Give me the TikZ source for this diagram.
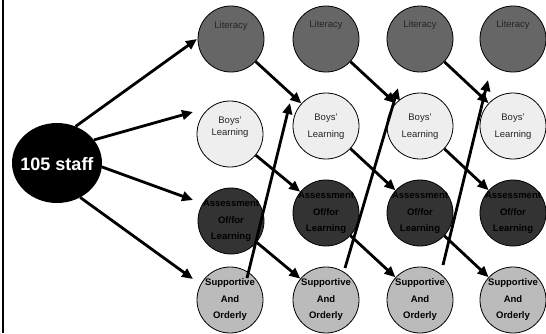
\documentclass[tikz,border=0pt]{standalone}
\usepackage{fontspec}
\setmainfont{Liberation Sans}
\usetikzlibrary{arrows.meta,calc,shapes.geometric}
\definecolor{litc}{HTML}{666666}
\definecolor{boyc}{HTML}{EEEEEE}
\definecolor{assc}{HTML}{333333}
\definecolor{supc}{HTML}{BBBBBB}
\begin{document}
\begin{tikzpicture}[x=1pt,y=-1pt,
  circ/.style={circle,draw=black,line width=0.8pt,minimum size=66pt,inner sep=0pt},
  lbl/.style={inner sep=0pt,align=center,text=black!85,font=\fontsize{9.5}{17}\selectfont},
  lbltight/.style={inner sep=0pt,align=center,text=black!85,font=\fontsize{9.5}{12.5}\selectfont},
  blbl/.style={inner sep=0pt,align=center,text=black,font=\fontsize{9.5}{16.5}\selectfont\bfseries},
  arr/.style={line width=2.8pt,-{Triangle[length=11pt,width=9.5pt]}}]
\useasboundingbox (0,0) rectangle (546,333);
\draw[line width=2pt] (3,0) -- (3,333);
% staff node
\node[ellipse,fill=black,minimum width=90pt,minimum height=80pt,inner sep=0pt] (staff) at (57,163) {};
\node[inner sep=0pt,text=white,font=\fontsize{18}{20}\selectfont\bfseries] (stafft) at (57,164) {105 staff};
% column 1
\node[circ,fill=litc] (L1) at (231,39) {};
\node[circ,fill=boyc] (B1) at (230,134) {};
\node[circ,fill=assc] (A1) at (231,221) {};
\node[circ,fill=supc] (S1) at (230,300) {};
\node[lbl] (L1t) at (231,26) {Literacy};
\node[lbltight] (B1t) at (230,127) {Boys'\\Learning};
\node[blbl] (A1t) at (231,221) {Assessment\\Of/for\\Learning};
\node[blbl] (S1t) at (230,300) {Supportive\\And\\Orderly};
% columns 2-4
\foreach \i/\x in {2/326,3/420,4/513}{
  \node[circ,fill=litc] (L\i) at (\x,39) {};
  \node[circ,fill=boyc] (B\i) at (\x,126) {};
  \node[circ,fill=assc] (A\i) at (\x,213) {};
  \node[circ,fill=supc] (S\i) at (\x,300) {};
  \node[lbl] (L\i t) at (\x,25) {Literacy};
  \node[lbl] (B\i t) at (\x,127) {Boys'\\Learning};
  \node[blbl] (A\i t) at (\x,213) {Assessment\\Of/for\\Learning};
  \node[blbl] (S\i t) at (\x,300) {Supportive\\And\\Orderly};
}
% arrows from staff
\draw[arr] (staff.63) -- ($(L1)+(-34,0)$);
\draw[arr] (staff.32) -- ($(B1)+(-37,-22)$);
\draw[arr] (staff.-5) -- ($(A1)+(-38,-21)$);
\draw[arr] (staff.-56) -- ($(S1)+(-37,-21)$);
% diagonal arrows
\foreach \a/\b in {L1/B2,L2/B3,L3/B4,B1/A2,B2/A3,B3/A4,A1/S2,A2/S3,A3/S4}{
  \draw[arr] (\a) -- (\b);
}
% upward arrows
\coordinate (u1a) at ($(S1)+(17,-22)$);
\coordinate (u1b) at ($(B2)+(-36,-23)$);
\coordinate (u2a) at ($(S2)+(19,-32)$);
\coordinate (u2b) at ($(B3)+(-22,-38)$);
\coordinate (u3a) at ($(S3)+(23,-35)$);
\coordinate (u3b) at ($(B4)+(-25,-46)$);
\draw[arr] (u1a) -- (u1b);
\draw[arr] (u2a) -- (u2b);
\draw[arr] (u3a) -- (u3b);
\end{tikzpicture}
\end{document}
